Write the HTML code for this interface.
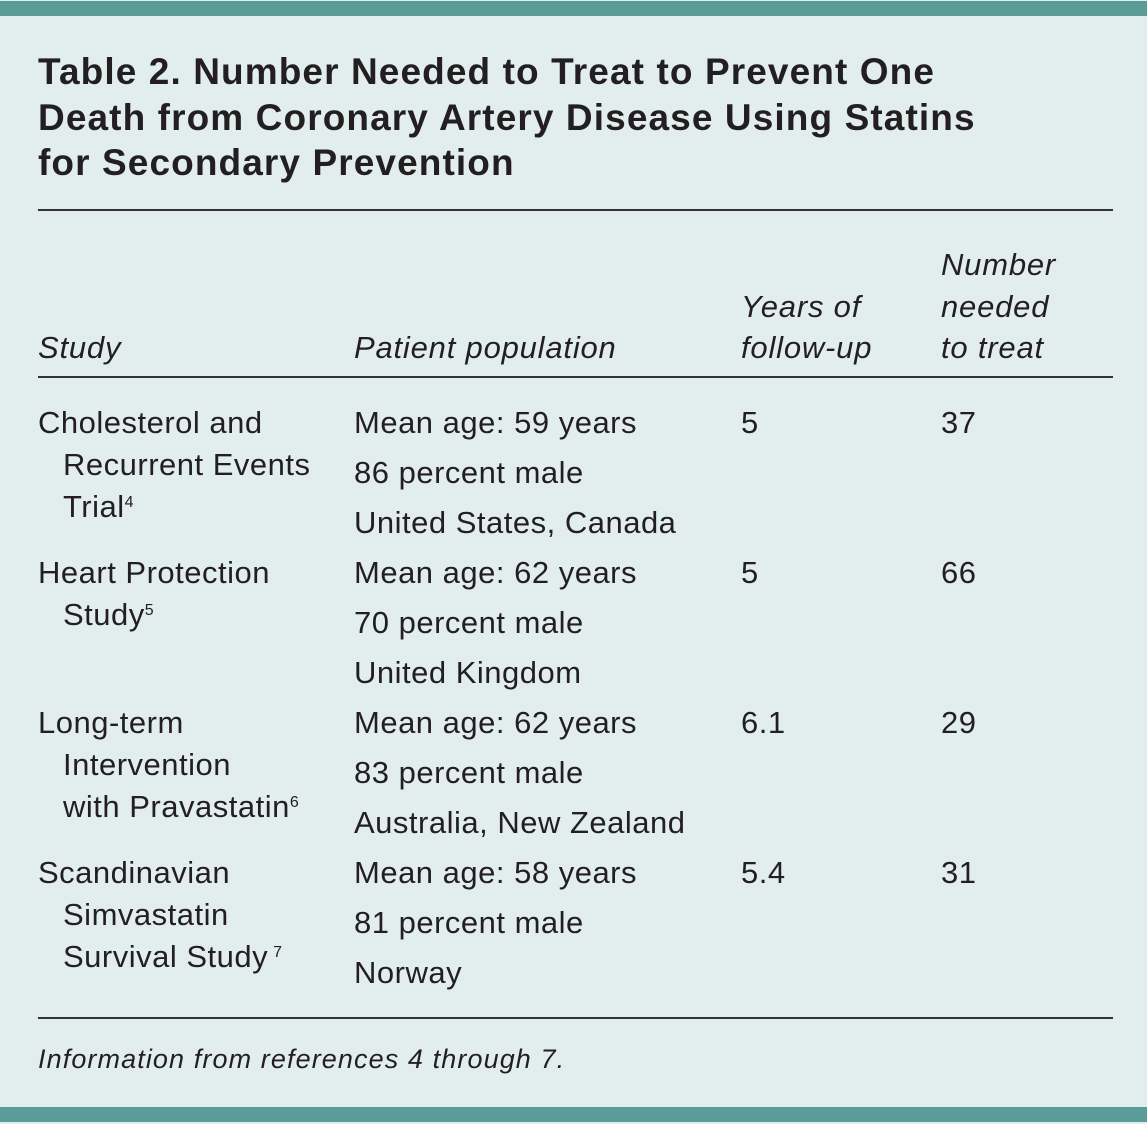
<!DOCTYPE html>
<html><head><style>
body{margin:0;width:1147px;height:1124px;background:#e2eeed;position:relative;overflow:hidden;font-family:"Liberation Sans",sans-serif;color:#231f20}
.bar{position:absolute;left:0;width:1147px;height:15px;background:#5b9b98}
.t{position:absolute;white-space:nowrap;font-size:31px;letter-spacing:0.5px;line-height:40px}
.h{font-weight:bold;font-size:37px;letter-spacing:1.1px;line-height:45px;left:38px}
.i{font-style:italic;letter-spacing:0.8px}
.rule{position:absolute;left:38px;width:1075px;height:2px;background:#333}
sup{font-size:16px;vertical-align:top;position:relative;top:-4px}
</style></head><body>
<div class="bar" style="top:1px"></div>
<div class="bar" style="top:1107px"></div>
<div class="t h" style="top:49px">Table 2. Number Needed to Treat to Prevent One</div>
<div class="t h" style="top:95px">Death from Coronary Artery Disease Using Statins</div>
<div class="t h" style="top:140px">for Secondary Prevention</div>
<div class="rule" style="top:209px"></div>
<div class="t i" style="left:941px;top:245px">Number</div>
<div class="t i" style="left:741px;top:287px">Years of</div>
<div class="t i" style="left:941px;top:287px">needed</div>
<div class="t i" style="left:38px;top:328px">Study</div>
<div class="t i" style="left:354px;top:328px">Patient population</div>
<div class="t i" style="left:741px;top:328px">follow-up</div>
<div class="t i" style="left:941px;top:328px">to treat</div>
<div class="rule" style="top:376px"></div>

<div class="t" style="left:38px;top:403px">Cholesterol and</div>
<div class="t" style="left:63px;top:445px">Recurrent Events</div>
<div class="t" style="left:63px;top:487px">Trial<sup>4</sup></div>
<div class="t" style="left:354px;top:403px">Mean age: 59 years</div>
<div class="t" style="left:354px;top:453px">86 percent male</div>
<div class="t" style="left:354px;top:503px">United States, Canada</div>
<div class="t" style="left:741px;top:403px">5</div>
<div class="t" style="left:941px;top:403px">37</div>

<div class="t" style="left:38px;top:553px">Heart Protection</div>
<div class="t" style="left:63px;top:595px">Study<sup>5</sup></div>
<div class="t" style="left:354px;top:553px">Mean age: 62 years</div>
<div class="t" style="left:354px;top:603px">70 percent male</div>
<div class="t" style="left:354px;top:653px">United Kingdom</div>
<div class="t" style="left:741px;top:553px">5</div>
<div class="t" style="left:941px;top:553px">66</div>

<div class="t" style="left:38px;top:703px">Long-term</div>
<div class="t" style="left:63px;top:745px">Intervention</div>
<div class="t" style="left:63px;top:787px">with Pravastatin<sup>6</sup></div>
<div class="t" style="left:354px;top:703px">Mean age: 62 years</div>
<div class="t" style="left:354px;top:753px">83 percent male</div>
<div class="t" style="left:354px;top:803px">Australia, New Zealand</div>
<div class="t" style="left:741px;top:703px">6.1</div>
<div class="t" style="left:941px;top:703px">29</div>

<div class="t" style="left:38px;top:853px">Scandinavian</div>
<div class="t" style="left:63px;top:895px">Simvastatin</div>
<div class="t" style="left:63px;top:937px">Survival Study<sup> 7</sup></div>
<div class="t" style="left:354px;top:853px">Mean age: 58 years</div>
<div class="t" style="left:354px;top:903px">81 percent male</div>
<div class="t" style="left:354px;top:953px">Norway</div>
<div class="t" style="left:741px;top:853px">5.4</div>
<div class="t" style="left:941px;top:853px">31</div>

<div class="rule" style="top:1017px"></div>
<div class="t i" style="left:38px;top:1042px;font-size:27px;letter-spacing:1.1px;line-height:34px">Information from references 4 through 7.</div>
</body></html>
